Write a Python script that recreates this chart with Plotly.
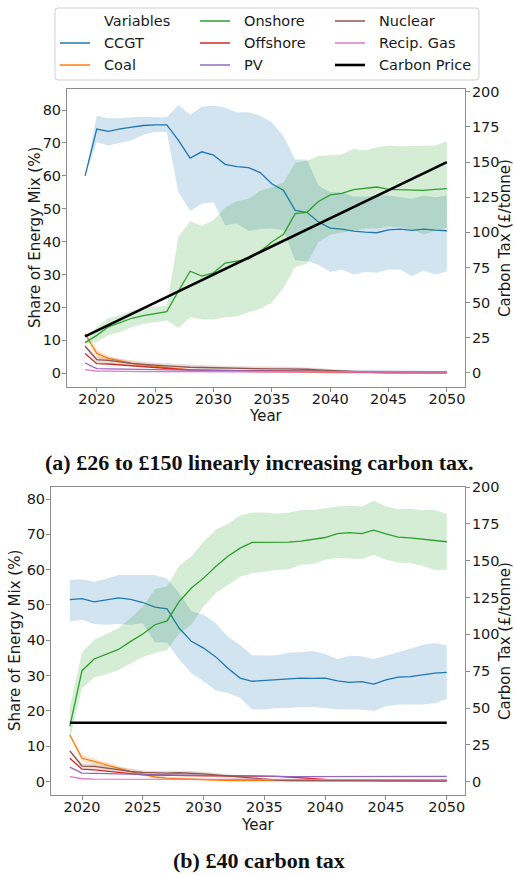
import plotly.graph_objects as go

years = list(range(2019, 2051))

# ---- panel (a): £26 -> £150 linear carbon tax ----
ccgt_a = [60.0, 74.2, 73.5, 74.3, 74.8, 75.3, 75.5, 75.5, 70.8, 65.4, 67.3, 66.3, 63.5, 62.8, 62.5, 61.0,
          57.6, 55.6, 49.5, 48.9, 46.0, 44.1, 43.8, 43.2, 42.9, 42.7, 43.6, 43.8, 43.4, 43.8, 43.5, 43.3]
ccgt_a_hi = [60.0, 78.3, 77.5, 77.5, 77.8, 78.0, 77.8, 77.8, 81.5, 78.6, 81.0, 81.3, 80.8, 79.3, 79.3, 78.3,
             76.3, 72.0, 65.0, 65.0, 57.0, 55.0, 55.0, 53.7, 53.7, 54.0, 54.0, 53.5, 53.0, 54.0, 53.5, 54.0]
ccgt_a_lo = [60.0, 70.2, 69.2, 70.0, 70.8, 72.5, 73.3, 73.3, 55.0, 49.3, 51.5, 52.0, 45.0, 45.5, 43.3, 43.8,
             44.0, 43.5, 34.3, 34.0, 33.0, 30.8, 31.5, 30.0, 30.8, 30.5, 31.5, 31.5, 29.5, 31.2, 30.0, 31.0]
onshore_a = [9.3, 11.5, 14.1, 15.5, 16.7, 17.5, 18.0, 18.7, 25.0, 31.0, 29.5, 30.5, 33.5, 34.2, 34.7, 37.0,
             39.9, 42.2, 48.5, 48.9, 52.2, 54.2, 54.7, 55.8, 56.3, 56.6, 55.9, 55.8, 55.9, 55.6, 55.9, 56.1]
onshore_a_hi = [9.5, 14.0, 16.7, 17.5, 19.0, 19.8, 20.3, 20.5, 41.5, 46.2, 44.8, 46.5, 50.3, 52.3, 53.0, 55.5,
                56.5, 58.0, 64.0, 64.6, 66.0, 66.2, 66.5, 68.2, 67.7, 68.7, 69.2, 69.0, 69.0, 69.1, 69.2, 70.5]
onshore_a_lo = [9.0, 9.5, 11.5, 12.5, 14.0, 15.0, 15.5, 16.0, 13.7, 17.0, 16.3, 16.3, 17.0, 17.2, 18.5, 19.5,
                21.5, 26.0, 32.3, 33.3, 39.9, 42.1, 42.9, 43.4, 44.0, 44.0, 44.6, 44.4, 43.6, 42.2, 43.2, 44.2]
coal_a = [12.0, 6.0, 4.5, 3.7, 3.0, 2.5, 2.0, 1.7, 1.3, 1.0, 0.8, 0.7, 0.6, 0.5, 0.5, 0.4,
          0.4, 0.4, 0.3, 0.3, 0.3, 0.2, 0.2, 0.2, 0.1, 0.1, 0.1, 0.1, 0.1, 0.1, 0.1, 0.1]
coal_a_hi = [12.5, 7.2, 5.3, 4.3, 3.5, 2.9, 2.4, 2.0, 1.6, 1.3, 1.1, 1.0, 0.9, 0.8, 0.8, 0.7,
             0.7, 0.6, 0.5, 0.5, 0.4, 0.4, 0.3, 0.3, 0.2, 0.2, 0.2, 0.2, 0.2, 0.2, 0.2, 0.2]
coal_a_lo = [11.5, 4.8, 3.8, 3.1, 2.5, 2.1, 1.6, 1.4, 1.0, 0.7, 0.5, 0.4, 0.3, 0.3, 0.2, 0.2,
             0.1, 0.1, 0.1, 0.1, 0.1, 0.0, 0.0, 0.0, 0.0, 0.0, 0.0, 0.0, 0.0, 0.0, 0.0, 0.0]
nuclear_a = [8.2, 4.1, 3.9, 3.4, 3.0, 2.7, 2.4, 2.2, 2.0, 1.8, 1.7, 1.6, 1.5, 1.5, 1.4, 1.4,
             1.3, 1.3, 1.3, 1.2, 1.0, 0.8, 0.6, 0.4, 0.3, 0.2, 0.1, 0.1, 0.1, 0.1, 0.1, 0.1]
nuclear_a_hi = [8.6, 5.0, 4.8, 4.3, 3.9, 3.5, 3.2, 3.0, 2.7, 2.5, 2.4, 2.3, 2.2, 2.1, 2.0, 2.0,
                2.0, 2.0, 1.9, 1.8, 1.6, 1.3, 1.0, 0.7, 0.5, 0.4, 0.2, 0.2, 0.2, 0.2, 0.2, 0.2]
nuclear_a_lo = [7.8, 3.2, 3.0, 2.6, 2.2, 1.9, 1.7, 1.5, 1.3, 1.2, 1.1, 1.0, 0.9, 0.9, 0.8, 0.8,
                0.7, 0.7, 0.7, 0.6, 0.5, 0.4, 0.3, 0.2, 0.1, 0.1, 0.0, 0.0, 0.0, 0.0, 0.0, 0.0]
offshore_a = [6.0, 2.9, 2.8, 2.5, 2.2, 1.9, 1.6, 1.4, 1.2, 1.0, 0.9, 0.9, 0.9, 0.8, 0.8, 0.8,
              0.8, 0.8, 0.8, 0.7, 0.6, 0.5, 0.4, 0.3, 0.3, 0.3, 0.3, 0.3, 0.3, 0.3, 0.3, 0.3]
pv_a = [3.1, 1.4, 1.3, 1.3, 1.2, 1.2, 1.1, 1.0, 1.0, 0.9, 0.9, 0.8, 0.8, 0.8, 0.7, 0.7,
        0.7, 0.7, 0.6, 0.6, 0.6, 0.6, 0.6, 0.5, 0.5, 0.5, 0.5, 0.5, 0.5, 0.5, 0.5, 0.5]
recip_a = [1.1, 0.6, 0.6, 0.5, 0.5, 0.5, 0.5, 0.5, 0.4, 0.4, 0.4, 0.4, 0.4, 0.4, 0.4, 0.4,
           0.4, 0.4, 0.4, 0.4, 0.3, 0.3, 0.3, 0.3, 0.3, 0.3, 0.3, 0.3, 0.3, 0.3, 0.3, 0.3]
carbon_a = [26, 30, 34, 38, 42, 46, 50, 54, 58, 62, 66, 70, 74, 78, 82, 86,
            90, 94, 98, 102, 106, 110, 114, 118, 122, 126, 130, 134, 138, 142, 146, 150]

# ---- panel (b): flat £40 carbon tax ----
ccgt_b = [51.5, 51.8, 50.9, 51.5, 52.0, 51.6, 50.7, 49.4, 48.9, 43.4, 39.7, 37.8, 35.3, 32.1, 29.3, 28.4,
          28.6, 28.8, 29.1, 29.3, 29.2, 29.3, 28.5, 28.1, 28.3, 27.6, 28.8, 29.6, 29.7, 30.2, 30.7, 30.9]
ccgt_b_hi = [57.1, 57.3, 56.6, 57.4, 58.5, 58.5, 58.5, 58.5, 57.4, 53.3, 48.2, 47.2, 44.8, 41.0, 38.7, 35.8,
             35.7, 35.8, 36.5, 36.6, 37.0, 36.1, 34.6, 35.6, 35.5, 34.7, 35.6, 36.5, 37.6, 38.7, 39.2, 38.5]
ccgt_b_lo = [45.3, 45.8, 44.6, 44.4, 44.6, 44.4, 44.8, 39.4, 39.4, 34.5, 30.7, 28.4, 25.8, 25.1, 23.7, 20.4,
             20.4, 20.8, 20.8, 21.1, 21.1, 20.8, 20.5, 20.4, 20.4, 20.0, 21.3, 21.8, 21.8, 21.8, 22.2, 23.4]
onshore_b = [15.6, 31.4, 34.7, 36.1, 37.4, 39.7, 41.8, 44.4, 45.5, 51.0, 54.8, 57.6, 60.9, 63.8, 66.1, 67.7,
             67.7, 67.7, 67.8, 68.1, 68.6, 69.1, 70.2, 70.5, 70.2, 71.2, 70.1, 69.2, 69.0, 68.6, 68.3, 67.9]
onshore_b_hi = [20.9, 36.6, 40.1, 41.8, 43.5, 46.3, 49.6, 54.5, 55.3, 61.1, 63.8, 68.0, 71.3, 72.9, 75.3, 76.2,
                76.2, 75.8, 76.1, 76.9, 76.9, 77.4, 77.9, 78.1, 77.9, 79.5, 77.9, 77.2, 77.2, 76.9, 76.9, 75.8]
onshore_b_lo = [12.0, 26.4, 29.5, 30.4, 31.6, 33.4, 35.3, 36.4, 37.2, 41.9, 44.4, 49.6, 53.4, 55.7, 58.0, 59.0,
                59.5, 59.9, 60.1, 61.4, 61.6, 62.8, 63.3, 63.1, 63.0, 64.2, 62.8, 62.0, 61.8, 61.1, 59.9, 59.9]
coal_b = [13.2, 6.6, 5.7, 4.7, 3.8, 2.8, 2.1, 1.3, 1.0, 0.8, 0.6, 0.5, 0.4, 0.3, 0.3, 0.2,
          0.2, 0.2, 0.1, 0.1, 0.1, 0.1, 0.1, 0.1, 0.1, 0.1, 0.1, 0.1, 0.1, 0.1, 0.1, 0.1]
coal_b_hi = [13.6, 7.6, 6.5, 5.4, 4.4, 3.4, 2.6, 1.8, 1.4, 1.2, 1.0, 0.8, 0.7, 0.6, 0.5, 0.4,
             0.4, 0.3, 0.3, 0.2, 0.2, 0.2, 0.2, 0.2, 0.2, 0.2, 0.2, 0.2, 0.2, 0.2, 0.2, 0.2]
coal_b_lo = [12.8, 5.6, 4.9, 4.0, 3.2, 2.2, 1.6, 0.9, 0.6, 0.5, 0.3, 0.2, 0.2, 0.1, 0.1, 0.1,
             0.0, 0.0, 0.0, 0.0, 0.0, 0.0, 0.0, 0.0, 0.0, 0.0, 0.0, 0.0, 0.0, 0.0, 0.0, 0.0]
nuclear_b = [8.7, 4.4, 4.3, 3.8, 3.3, 2.9, 2.6, 2.4, 2.4, 2.5, 2.4, 2.2, 1.9, 1.6, 1.3, 0.9,
             0.6, 0.4, 0.3, 0.3, 0.2, 0.2, 0.2, 0.2, 0.2, 0.2, 0.2, 0.2, 0.2, 0.2, 0.2, 0.2]
nuclear_b_hi = [9.1, 5.2, 5.0, 4.5, 4.0, 3.6, 3.2, 3.0, 3.0, 3.1, 3.0, 2.8, 2.5, 2.2, 1.9, 1.4,
                1.0, 0.7, 0.5, 0.5, 0.4, 0.4, 0.4, 0.4, 0.4, 0.4, 0.4, 0.4, 0.4, 0.4, 0.4, 0.4]
nuclear_b_lo = [8.3, 3.6, 3.6, 3.1, 2.6, 2.2, 2.0, 1.8, 1.8, 1.9, 1.8, 1.6, 1.3, 1.0, 0.7, 0.4,
                0.2, 0.1, 0.1, 0.1, 0.0, 0.0, 0.0, 0.0, 0.0, 0.0, 0.0, 0.0, 0.0, 0.0, 0.0, 0.0]
offshore_b = [6.6, 3.5, 3.3, 2.9, 2.6, 2.2, 1.9, 1.8, 1.7, 1.7, 1.6, 1.6, 1.6, 1.6, 1.6, 1.6,
              1.6, 1.5, 1.3, 1.0, 0.8, 0.6, 0.5, 0.4, 0.4, 0.3, 0.3, 0.3, 0.3, 0.3, 0.3, 0.3]
pv_b = [4.1, 2.4, 2.3, 2.2, 2.1, 2.0, 1.9, 1.9, 1.8, 1.8, 1.8, 1.7, 1.7, 1.7, 1.7, 1.7,
        1.6, 1.5, 1.4, 1.4, 1.4, 1.4, 1.4, 1.4, 1.4, 1.4, 1.5, 1.5, 1.5, 1.5, 1.5, 1.5]
recip_b = [1.4, 0.8, 0.7, 0.7, 0.7, 0.6, 0.6, 0.6, 0.6, 0.6, 0.6, 0.5, 0.5, 0.5, 0.5, 0.5,
           0.5, 0.5, 0.5, 0.5, 0.5, 0.5, 0.5, 0.5, 0.5, 0.5, 0.5, 0.5, 0.5, 0.5, 0.5, 0.5]
carbon_b = [40, 40, 40, 40, 40, 40, 40, 40, 40, 40, 40, 40, 40, 40, 40, 40,
            40, 40, 40, 40, 40, 40, 40, 40, 40, 40, 40, 40, 40, 40, 40, 40]

COLORS = {
    "CCGT": (31, 119, 180), "Coal": (255, 127, 14), "Onshore": (44, 160, 44),
    "Offshore": (214, 39, 40), "PV": (148, 103, 189), "Nuclear": (140, 86, 75),
    "Recip. Gas": (227, 119, 194),
}

FONT = "DejaVu Sans"
TEXT = "#1a1a1a"
AXIS_GREY = "#8c8c8c"
W, H = 514, 875


def rgb(c, a=1.0):
    return f"rgba({c[0]},{c[1]},{c[2]},{a})"


def px_x(a, b):
    return [a / W, b / W]


def px_y(top, bottom):
    return [1 - bottom / H, 1 - top / H]


def add_panel(fig, xa, ya, ya2, series, carbon):
    for name, vals, lo, hi in series:
        c = COLORS[name]
        if lo is not None:
            fig.add_trace(go.Scatter(
                x=years + years[::-1], y=hi + lo[::-1], fill="toself",
                fillcolor=rgb(c, 0.2), line=dict(width=0), mode="lines",
                hoverinfo="skip", showlegend=False, xaxis=xa, yaxis=ya))
        fig.add_trace(go.Scatter(
            x=years, y=vals, mode="lines", line=dict(color=rgb(c), width=1.3),
            showlegend=False, xaxis=xa, yaxis=ya))
    fig.add_trace(go.Scatter(
        x=years, y=carbon, mode="lines", line=dict(color="black", width=2.6),
        showlegend=False, xaxis=xa, yaxis=ya2))


fig = go.Figure()

add_panel(fig, "x", "y", "y2", [
    ("CCGT", ccgt_a, ccgt_a_lo, ccgt_a_hi),
    ("Coal", coal_a, coal_a_lo, coal_a_hi),
    ("Onshore", onshore_a, onshore_a_lo, onshore_a_hi),
    ("Offshore", offshore_a, None, None),
    ("PV", pv_a, None, None),
    ("Nuclear", nuclear_a, nuclear_a_lo, nuclear_a_hi),
    ("Recip. Gas", recip_a, None, None),
], carbon_a)

add_panel(fig, "x2", "y3", "y4", [
    ("CCGT", ccgt_b, ccgt_b_lo, ccgt_b_hi),
    ("Coal", coal_b, coal_b_lo, coal_b_hi),
    ("Onshore", onshore_b, onshore_b_lo, onshore_b_hi),
    ("Offshore", offshore_b, None, None),
    ("PV", pv_b, None, None),
    ("Nuclear", nuclear_b, nuclear_b_lo, nuclear_b_hi),
    ("Recip. Gas", recip_b, None, None),
], carbon_b)

axis_common = dict(
    showline=True, linecolor=AXIS_GREY, linewidth=1, ticks="outside", ticklen=4,
    tickcolor=AXIS_GREY, showgrid=False, zeroline=False, automargin=False,
    tickfont=dict(family=FONT, size=14.5, color=TEXT),
)
x_common = dict(axis_common, ticklabelstandoff=-5, tick0=2020, dtick=5, mirror=True)
yl_common = dict(axis_common, ticklabelstandoff=-2, tick0=0, dtick=10, mirror=True)
yr_common = dict(axis_common, ticklabelstandoff=-1, tick0=0, dtick=25, side="right")

fig.update_layout(
    template="none",
    width=W, height=H,
    margin=dict(l=0, r=0, t=0, b=0, autoexpand=False),
    paper_bgcolor="white", plot_bgcolor="white",
    font=dict(family=FONT, size=15, color=TEXT),
    showlegend=False,
    xaxis=dict(domain=px_x(67, 465), anchor="y", range=[2017.45, 2051.55], **x_common),
    yaxis=dict(domain=px_y(89, 387), anchor="x", range=[-4.2, 86.4], **yl_common),
    yaxis2=dict(overlaying="y", anchor="x", range=[-10, 202], **yr_common),
    xaxis2=dict(domain=px_x(51, 465), anchor="y3", range=[2017.45, 2051.5], **x_common),
    yaxis3=dict(domain=px_y(487, 795), anchor="x2", range=[-3.8, 83.4], **yl_common),
    yaxis4=dict(overlaying="y3", anchor="x2", range=[-9, 200], **yr_common),
)

# ---- legend box drawn by hand: 3 columns, filled column by column ----
legend_cols = [["Variables", "CCGT", "Coal"],
               ["Onshore", "Offshore", "PV"],
               ["Nuclear", "Recip. Gas", "Carbon Price"]]
col_x = [60, 200, 335]
row_y = [21, 43, 65]
box = (55, 8, 479, 80)
r = 3
x0, y0, x1, y1 = [v / W if i % 2 == 0 else 1 - v / H for i, v in enumerate(box)]
rx, ry = r / W, r / H
fig.add_shape(
    type="path", xref="paper", yref="paper",
    path=(f"M {x0 + rx} {y0} L {x1 - rx} {y0} Q {x1} {y0} {x1} {y0 - ry} "
          f"L {x1} {y1 + ry} Q {x1} {y1} {x1 - rx} {y1} L {x0 + rx} {y1} "
          f"Q {x0} {y1} {x0} {y1 + ry} L {x0} {y0 - ry} Q {x0} {y0} {x0 + rx} {y0} Z"),
    line=dict(color="#d0d0d0", width=1), fillcolor="rgba(255,255,255,0.8)", layer="above",
)
legend_font = dict(family=FONT, size=14.5, color=TEXT)
for cx, names in zip(col_x, legend_cols):
    for ry_px, name in zip(row_y, names):
        yy = 1 - ry_px / H
        if name == "Carbon Price":
            color, width = "black", 2.6
        elif name in COLORS:
            color, width = rgb(COLORS[name], 0.75), 2
        else:
            color = None
        if color:
            fig.add_shape(type="line", xref="paper", yref="paper",
                          x0=cx / W, x1=(cx + 30) / W, y0=yy, y1=yy,
                          line=dict(color=color, width=width), layer="above")
        fig.add_annotation(text=name, xref="paper", yref="paper", x=(cx + 42) / W, y=yy,
                           xanchor="left", yanchor="middle", showarrow=False, font=legend_font)

# axis titles placed as annotations (pixel positions from the original)
title_font = dict(family=FONT, size=15, color=TEXT)
axis_titles = [
    ("Year", 266, 416, 0), ("Share of Energy Mix (%)", 35, 238, -90),
    ("Carbon Tax (£/tonne)", 505, 238, -90),
    ("Year", 258, 825, 0), ("Share of Energy Mix (%)", 15, 641, -90),
    ("Carbon Tax (£/tonne)", 505, 641, -90),
]
for text, x, y, ang in axis_titles:
    fig.add_annotation(text=text, xref="paper", yref="paper", x=x / W, y=1 - y / H,
                       xanchor="center", yanchor="middle", textangle=ang,
                       showarrow=False, font=title_font)

caption_font = dict(family="Liberation Serif", size=22, color="#111111")
fig.add_annotation(text="<b>(a) £26 to £150 linearly increasing carbon tax.</b>",
                   xref="paper", yref="paper", x=259 / W, y=1 - 462 / H,
                   xanchor="center", yanchor="middle", showarrow=False, font=caption_font)
fig.add_annotation(text="<b>(b) £40 carbon tax</b>",
                   xref="paper", yref="paper", x=259 / W, y=1 - 860 / H,
                   xanchor="center", yanchor="middle", showarrow=False, font=caption_font)

fig.write_html("out.html", config={"displayModeBar": False},
               post_script="document.body.style.margin = '0';")
